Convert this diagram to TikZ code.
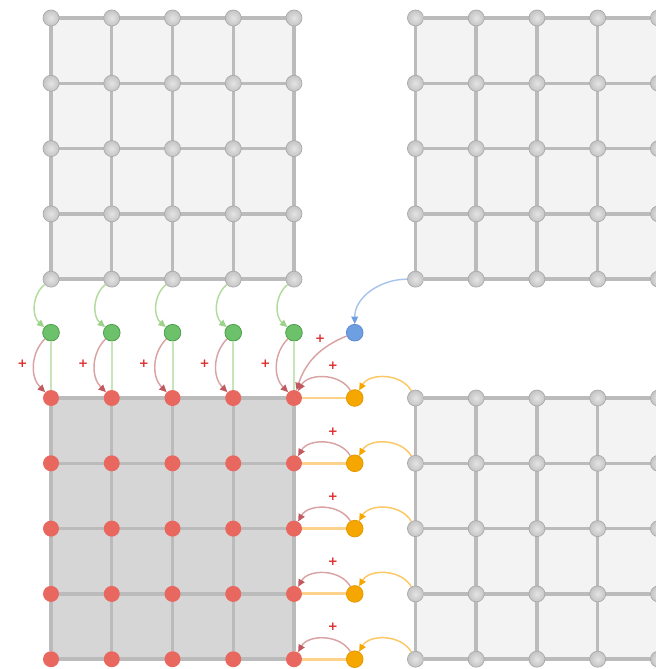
\documentclass[tikz,border=0pt]{standalone}
\usepackage{xcolor}
\usepackage{fontspec}
\newfontfamily\plusfont{DejaVu Sans}
\usetikzlibrary{arrows.meta,backgrounds}
\definecolor{cellc}{HTML}{F3F3F3}
\definecolor{celldark}{HTML}{D6D6D6}
\definecolor{gridc}{HTML}{BBBBBB}
\definecolor{gridnode}{HTML}{C4C4C4}
\definecolor{nodeedge}{HTML}{A8A8A8}
\definecolor{redn}{HTML}{E8675F}
\definecolor{greenn}{HTML}{6DC16A}
\definecolor{greenedge}{HTML}{4E9E4B}
\definecolor{bluen}{HTML}{6E9FE0}
\definecolor{blueedge}{HTML}{5B8BD3}
\definecolor{orangen}{HTML}{F5A700}
\definecolor{orangeedge}{HTML}{E39A00}
\definecolor{greenlink}{HTML}{C6E5B8}
\definecolor{orangelink}{HTML}{FDD28A}
\definecolor{greenarc}{HTML}{B2DB9F}
\definecolor{greentip}{HTML}{9ED28A}
\definecolor{bluearc}{HTML}{A9C5EE}
\definecolor{orangearc}{HTML}{FCC865}
\definecolor{redarc}{HTML}{D9A3A3}
\definecolor{redtip}{HTML}{C05A60}
\definecolor{plusc}{HTML}{E02A2A}

\begin{document}
\begin{tikzpicture}[
  x=45.56pt, y=48.98pt,
  gnode/.style={circle, inner sep=0pt, minimum size=12pt, draw=nodeedge, line width=0.5pt, inner color=gridnode!45!white, outer color=gridnode},
  rnode/.style={circle, inner sep=0pt, minimum size=12pt, fill=redn},
  grnode/.style={circle, inner sep=0pt, minimum size=12.5pt, fill=greenn, draw=greenedge, line width=0.6pt},
  bnode/.style={circle, inner sep=0pt, minimum size=12.5pt, fill=bluen, draw=blueedge, line width=0.6pt},
  onode/.style={circle, inner sep=0pt, minimum size=12.5pt, fill=orangen, draw=orangeedge, line width=0.6pt},
  gline/.style={draw=gridc, line width=2.6pt},
  glink/.style={draw=greenlink, line width=1.5pt},
  olink/.style={draw=orangelink, line width=2.2pt},
  garc/.style={draw=greenarc, line width=1.1pt, -{Triangle[length=5.5pt,width=5pt,color=greentip]}},
  barc/.style={draw=bluearc, line width=1.1pt, -{Triangle[length=5.5pt,width=5pt,color=bluen]}},
  oarc/.style={draw=orangearc, line width=1.1pt, -{Triangle[length=5.5pt,width=5pt,color=orangen]}},
  rarc/.style={draw=redarc, line width=1.1pt, -{Triangle[length=5.5pt,width=5pt,color=redtip]}},
  plus/.style={font=\plusfont\bfseries\small, text=plusc, inner sep=0pt}
]

\clip (-0.84,-4.15) rectangle (9.96,6.095);

% Grids (bl is the local block)
\foreach \g/\x/\y/\ns in {tl/0/1.82/gnode, tr/6/1.82/gnode, br/6/-4/gnode, bl/0/-4/rnode}
  \foreach \c in {0,...,4}
    \foreach \r in {0,...,4}
      \node[\ns] (\g\c\r) at ({\x+\c},{\y+\r}) {};

\begin{scope}[on background layer]
  \foreach \g/\fc in {tl/cellc, tr/cellc, br/cellc, bl/celldark}
    \fill[\fc] (\g00.center) rectangle (\g44.center);
  \foreach \g in {tl,tr,br,bl}
    \foreach \i in {0,...,4} {
      \draw[gline] (\g\i0) -- (\g\i4);
      \draw[gline] (\g0\i) -- (\g4\i);
    }
\end{scope}

% Halo nodes
\foreach \c in {0,...,4}
  \node[grnode] (gr\c) at (\c,1) {};
\node[bnode] (bn) at (5,1) {};
\foreach \r in {0,...,4}
  \node[onode] (or\r) at (5,{\r-4}) {};

% Top halo
\foreach \c in {0,...,4} {
  \draw[glink] (gr\c) -- (bl\c4);
  \draw[garc] (tl\c0) to[bend right=50] (gr\c);
  \draw[rarc] (gr\c) to[bend right=45] (bl\c4);
  \node[plus] (pg\c) at ({\c-0.47},0.52) {+};
}

% Corner
\draw[barc] (tr00) to[out=180,in=90] (bn);
\draw[rarc] (bn) to[bend right=25] (bl44);
\node[plus] (pb) at (4.43,0.9) {+};

% Right halo
\foreach \r in {0,...,4} {
  \draw[olink] (bl4\r) -- (or\r);
  \draw[oarc] (br0\r) to[bend right=60] (or\r);
  \draw[rarc] (or\r) to[bend right=60] (bl4\r);
  \node[plus] (po\r) at (4.64,{\r-3.51}) {+};
}

\end{tikzpicture}
\end{document}
